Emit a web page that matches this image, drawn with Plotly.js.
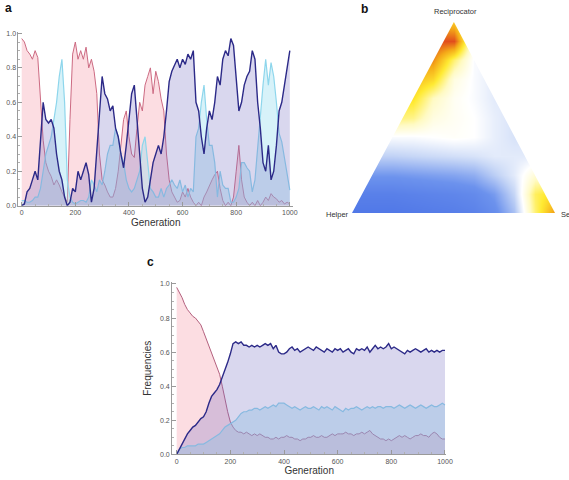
<!DOCTYPE html>
<html>
<head>
<meta charset="utf-8">
<script src="https://cdn.plot.ly/plotly-3.0.1.min.js"></script>
<style>
html,body{margin:0;padding:0;background:#fff;}
#chart{width:569px;height:480px;}
</style>
</head>
<body>
<div id="chart"></div>
<script>
// ---------- DATA ----------
const generations = [0,10,20,30,40,50,60,70,80,90,100,110,120,130,140,150,160,170,180,190,200,210,220,230,240,250,260,270,280,290,300,310,320,330,340,350,360,370,380,390,400,410,420,430,440,450,460,470,480,490,500,510,520,530,540,550,560,570,580,590,600,610,620,630,640,650,660,670,680,690,700,710,720,730,740,750,760,770,780,790,800,810,820,830,840,850,860,870,880,890,900,910,920,930,940,950,960,970,980,990,1000];

// panel a
const aPink = [0.97,0.95,0.90,0.88,0.85,0.90,0.86,0.60,0.38,0.25,
 0.20,0.17,0.12,0.15,0.12,0.08,0.05,0.02,0.50,0.88,
 0.95,0.85,0.90,0.85,0.92,0.80,0.85,0.78,0.65,0.30,
 0.15,0.12,0.08,0.05,0.05,0.10,0.20,0.35,0.50,0.55,
 0.40,0.30,0.28,0.45,0.60,0.55,0.70,0.75,0.80,0.65,
 0.78,0.72,0.62,0.55,0.30,0.15,0.08,0.05,0.02,0.03,
 0.08,0.05,0.10,0.05,0.02,0.00,0.02,0.00,0.05,0.08,
 0.12,0.15,0.18,0.20,0.10,0.03,0.00,0.02,0.00,0.05,
 0.20,0.35,0.15,0.05,0.02,0.00,0.02,0.00,0.03,0.00,
 0.02,0.05,0.03,0.07,0.05,0.04,0.02,0.03,0.01,0.02,
 0.01];
const aNavy = [0.00,0.01,0.08,0.10,0.15,0.20,0.15,0.35,0.60,0.50,
 0.48,0.50,0.45,0.30,0.20,0.15,0.05,0.00,0.02,0.10,
 0.08,0.20,0.15,0.20,0.25,0.18,0.02,0.10,0.30,0.55,
 0.75,0.65,0.62,0.55,0.58,0.45,0.40,0.30,0.22,0.35,
 0.50,0.65,0.70,0.50,0.30,0.10,0.02,0.05,0.15,0.25,
 0.30,0.35,0.30,0.40,0.55,0.72,0.78,0.82,0.85,0.80,
 0.85,0.82,0.88,0.85,0.90,0.60,0.55,0.40,0.30,0.45,
 0.55,0.50,0.60,0.75,0.70,0.85,0.90,0.87,0.97,0.93,
 0.75,0.55,0.60,0.70,0.75,0.78,0.90,0.85,0.60,0.45,
 0.25,0.20,0.35,0.15,0.20,0.35,0.55,0.60,0.70,0.80,
 0.90];
const aCyan = [0.03,0.03,0.02,0.02,0.03,0.05,0.05,0.10,0.20,0.30,
 0.35,0.40,0.50,0.60,0.75,0.85,0.60,0.15,0.05,0.02,
 0.01,0.02,0.03,0.03,0.02,0.05,0.15,0.12,0.08,0.15,
 0.12,0.20,0.30,0.35,0.35,0.45,0.40,0.30,0.25,0.15,
 0.10,0.08,0.10,0.15,0.20,0.35,0.40,0.25,0.10,0.08,
 0.05,0.05,0.10,0.05,0.10,0.12,0.15,0.12,0.10,0.15,
 0.08,0.12,0.05,0.10,0.08,0.40,0.45,0.60,0.70,0.50,
 0.35,0.35,0.25,0.05,0.20,0.12,0.10,0.10,0.02,0.02,
 0.05,0.10,0.25,0.25,0.22,0.20,0.08,0.15,0.35,0.50,
 0.70,0.85,0.70,0.83,0.75,0.60,0.42,0.37,0.28,0.18,
 0.09];

// panel c
const cPink = [0.98,0.95,0.92,0.88,0.85,0.83,0.81,0.80,0.78,0.76,
 0.72,0.68,0.64,0.60,0.56,0.52,0.47,0.40,0.32,0.25,
 0.19,0.16,0.14,0.13,0.13,0.12,0.13,0.12,0.11,0.12,
 0.11,0.12,0.11,0.10,0.10,0.09,0.09,0.10,0.09,0.10,
 0.10,0.11,0.10,0.10,0.09,0.09,0.08,0.09,0.09,0.10,
 0.10,0.11,0.10,0.10,0.11,0.10,0.10,0.11,0.12,0.11,
 0.12,0.12,0.12,0.13,0.12,0.12,0.11,0.12,0.12,0.13,
 0.12,0.13,0.14,0.12,0.11,0.10,0.09,0.09,0.08,0.09,
 0.08,0.09,0.10,0.11,0.10,0.11,0.10,0.09,0.10,0.11,
 0.11,0.12,0.11,0.11,0.10,0.12,0.13,0.12,0.10,0.09,
 0.09];
const cNavy = [0.00,0.03,0.06,0.09,0.12,0.14,0.16,0.17,0.19,0.21,
 0.22,0.25,0.30,0.34,0.36,0.38,0.41,0.45,0.49,0.54,
 0.59,0.65,0.66,0.65,0.66,0.64,0.64,0.63,0.64,0.63,
 0.64,0.63,0.64,0.65,0.64,0.65,0.62,0.64,0.60,0.59,
 0.59,0.60,0.62,0.63,0.61,0.62,0.60,0.61,0.62,0.63,
 0.62,0.61,0.63,0.62,0.61,0.60,0.62,0.61,0.60,0.62,
 0.61,0.62,0.60,0.61,0.62,0.60,0.59,0.62,0.61,0.62,
 0.61,0.63,0.60,0.62,0.64,0.62,0.63,0.62,0.63,0.65,
 0.62,0.63,0.62,0.61,0.60,0.59,0.61,0.60,0.61,0.62,
 0.61,0.60,0.61,0.62,0.60,0.61,0.60,0.61,0.60,0.61,
 0.61];
const cCyan = [0.00,0.03,0.04,0.04,0.05,0.05,0.05,0.05,0.06,0.06,
 0.06,0.07,0.08,0.09,0.10,0.11,0.12,0.14,0.16,0.17,
 0.18,0.19,0.20,0.22,0.24,0.25,0.25,0.26,0.26,0.27,
 0.27,0.26,0.27,0.28,0.27,0.28,0.29,0.28,0.30,0.30,
 0.30,0.29,0.28,0.27,0.28,0.27,0.26,0.27,0.28,0.27,
 0.27,0.28,0.27,0.26,0.28,0.27,0.28,0.27,0.26,0.28,
 0.27,0.26,0.25,0.27,0.26,0.27,0.27,0.28,0.27,0.26,
 0.27,0.28,0.27,0.28,0.27,0.28,0.28,0.27,0.28,0.28,
 0.28,0.27,0.28,0.29,0.28,0.27,0.28,0.29,0.28,0.27,
 0.28,0.29,0.28,0.27,0.28,0.29,0.28,0.28,0.29,0.30,
 0.29];

// panel b: density over the simplex (rows = height from Helper–Selfish edge up to Reciprocator apex)
const simplexX = [0,0.1,0.2,0.3,0.4,0.5,0.6,0.7,0.8,0.9,1.0];
const simplexY = [0,0.1,0.2,0.3,0.4,0.5,0.6,0.7,0.8,0.9,1.0];
const density = [
 [0.07,0.07,0.07,0.08,0.09,0.10,0.12,0.17,0.30,0.62,0.85],
 [0.11,0.11,0.11,0.12,0.13,0.14,0.16,0.22,0.35,0.64,0.72],
 [0.21,0.21,0.21,0.22,0.23,0.24,0.26,0.33,0.40,0.52,0.50],
 [0.34,0.34,0.34,0.35,0.36,0.37,0.38,0.40,0.40,0.40,0.40],
 [0.44,0.44,0.44,0.44,0.45,0.46,0.45,0.41,0.38,0.38,0.38],
 [0.62,0.62,0.62,0.60,0.50,0.47,0.45,0.41,0.38,0.38,0.38],
 [0.72,0.72,0.72,0.70,0.55,0.47,0.44,0.40,0.40,0.40,0.40],
 [0.78,0.78,0.78,0.78,0.72,0.50,0.44,0.40,0.40,0.40,0.40],
 [0.86,0.86,0.86,0.86,0.86,0.62,0.44,0.42,0.42,0.42,0.42],
 [0.95,0.95,0.95,0.95,0.95,0.95,0.45,0.42,0.42,0.42,0.42],
 [0.80,0.80,0.80,0.80,0.80,0.75,0.50,0.45,0.45,0.45,0.45]
];
const cornerLabels = ['Reciprocator','Helper','Se'];

// ---------- STYLE ----------
const pinkLine = '#cc6a82', pinkFill = 'rgba(248,170,182,0.40)';
const navyLine = '#2c2a88', navyFill = 'rgba(120,110,195,0.28)';
const cyanLine = '#8ed6ec', cyanFill = 'rgba(150,220,240,0.38)';
const tickFont = {family:'Liberation Sans, Arial, sans-serif', size:7, color:'#555'};
const titleFont = {family:'Liberation Sans, Arial, sans-serif', size:10, color:'#333'};

function series(x, y, line, fill, w, xa, ya){
  return {type:'scatter', mode:'lines', x:x, y:y, xaxis:xa, yaxis:ya,
    fill:'tozeroy', fillcolor:fill, line:{color:line, width:w}, hoverinfo:'skip', showlegend:false};
}

const traces = [
  series(generations, aPink, pinkLine, pinkFill, 1, 'x', 'y'),
  series(generations, aCyan, cyanLine, cyanFill, 1.2, 'x', 'y'),
  series(generations, aNavy, navyLine, navyFill, 1.4, 'x', 'y'),
  series(generations, cPink, '#b3607e', pinkFill, 1, 'x2', 'y2'),
  series(generations, cCyan, cyanLine, cyanFill, 1.2, 'x2', 'y2'),
  series(generations, cNavy, navyLine, navyFill, 1.4, 'x2', 'y2'),
  {type:'heatmap', x:simplexX, y:simplexY, z:density, xaxis:'x3', yaxis:'y3',
   zmin:0, zmax:1, zsmooth:'best', showscale:false, hoverinfo:'skip',
   colorscale:[[0,'rgb(66,106,228)'],[0.2,'rgb(108,146,237)'],[0.35,'rgb(198,214,246)'],
     [0.45,'rgb(255,255,255)'],[0.55,'rgb(255,250,195)'],[0.68,'rgb(255,234,50)'],
     [0.82,'rgb(244,168,24)'],[1,'rgb(218,42,30)']]}
];

function xAxis(domain, range, anchor){
  return {domain:domain, range:range, anchor:anchor, showline:true, linecolor:'#9a9a9a', linewidth:1,
    ticks:'inside', ticklen:4, tickcolor:'#9a9a9a', tickvals:[0,200,400,600,800,1000],
    minor:{ticks:'inside', ticklen:2, tickcolor:'#b0b0b0', dtick:50},
    showgrid:false, zeroline:false, tickfont:tickFont, automargin:false,
    title:{text:'Generation', font:titleFont, standoff:3}};
}
function yAxis(domain, anchor, title){
  return {domain:domain, range:[0,1.01], anchor:anchor, showline:true, linecolor:'#9a9a9a', linewidth:1,
    ticks:'inside', ticklen:4, tickcolor:'#9a9a9a', dtick:0.2, tick0:0, tickformat:'.1f',
    minor:{ticks:'inside', ticklen:2, tickcolor:'#b0b0b0', dtick:0.05},
    showgrid:false, zeroline:false, tickfont:tickFont, automargin:false,
    title:{text:title, font:titleFont, standoff:6}};
}

const apexX = 0.502;
const white = {type:'path', xref:'x3', yref:'y3', fillcolor:'#fff', line:{width:0}, layer:'above'};
const layout = {
  width:569, height:480, margin:{l:0,r:0,t:0,b:0}, paper_bgcolor:'#fff', plot_bgcolor:'rgba(0,0,0,0)',
  showlegend:false,
  xaxis: xAxis([0.0325,0.515], [-12,1012], 'y'),
  yaxis: yAxis([0.5715,0.934], 'x', ''),
  xaxis2: xAxis([0.3025,0.7844], [-17,1005], 'y2'),
  yaxis2: yAxis([0.0535,0.4119], 'x2', 'Frequencies'),
  xaxis3: {domain:[0.6186,0.9754], range:[0,1], anchor:'y3', visible:false, fixedrange:true},
  yaxis3: {domain:[0.55625,0.95417], range:[0,1], anchor:'x3', visible:false, fixedrange:true},
  shapes:[
    Object.assign({path:`M -0.1,-0.1 L 0,0 L ${apexX},1 L -0.1,1.1 Z`}, white),
    Object.assign({path:`M 1.1,-0.1 L 1,0 L ${apexX},1 L 1.1,1.1 Z`}, white),
    Object.assign({path:`M -0.1,1 L 1.1,1 L 1.1,1.2 L -0.1,1.2 Z`}, white)
  ],
  annotations:[
    {text:'<b>a</b>', xref:'paper', yref:'paper', x:3/569, y:1-8/480, xanchor:'left', yanchor:'middle', showarrow:false, font:{family:'Liberation Sans, Arial', size:12, color:'#111'}},
    {text:'<b>b</b>', xref:'paper', yref:'paper', x:359/569, y:1-9/480, xanchor:'left', yanchor:'middle', showarrow:false, font:{family:'Liberation Sans, Arial', size:12, color:'#111'}},
    {text:'<b>c</b>', xref:'paper', yref:'paper', x:145/569, y:1-262/480, xanchor:'left', yanchor:'middle', showarrow:false, font:{family:'Liberation Sans, Arial', size:12, color:'#111'}},
    {text:cornerLabels[0], xref:'paper', yref:'paper', x:455/569, y:1-11/480, xanchor:'center', yanchor:'middle', showarrow:false, font:{family:'Liberation Sans, Arial', size:7.5, color:'#333'}},
    {text:cornerLabels[1], xref:'paper', yref:'paper', x:351/569, y:1-214/480, xanchor:'right', yanchor:'middle', showarrow:false, font:{family:'Liberation Sans, Arial', size:7.5, color:'#333'}},
    {text:cornerLabels[2], xref:'paper', yref:'paper', x:559/569, y:1-214/480, xanchor:'left', yanchor:'middle', showarrow:false, font:{family:'Liberation Sans, Arial', size:7.5, color:'#333'}}
  ]
};

Plotly.newPlot('chart', traces, layout, {staticPlot:true, displayModeBar:false});
</script>
</body>
</html>
